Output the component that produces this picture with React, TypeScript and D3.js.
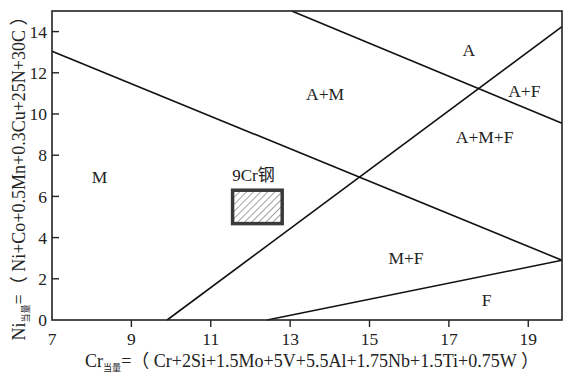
import React from 'react';
import * as d3 from 'd3';

// phase boundary lines, as (Cr_eq, Ni_eq) end points
const boundaryStartX = [7, 9.9, 13.04, 12.42];
const boundaryStartY = [13.05, 0, 15, 0];
const boundaryEndX = [19.85, 19.85, 19.85, 19.85];
const boundaryEndY = [2.9, 14.24, 9.55, 2.9];

// phase region labels
const regionNames = ['A', 'A+M', 'A+F', 'A+M+F', 'M', 'M+F', 'F'];
const regionX = [17.5, 13.88, 18.9, 17.9, 8.2, 15.92, 17.95];
const regionY = [13.1, 11.0, 11.1, 8.9, 6.96, 3.0, 1.0];

// 9Cr steel composition window
const steelName = '9Cr钢';
const steelCr = [11.55, 12.8];
const steelNi = [4.68, 6.3];

const xTicks = [7, 9, 11, 13, 15, 17, 19];
const yTicks = [0, 2, 4, 6, 8, 10, 12, 14];

const FONT = '"Liberation Serif", "Noto Sans CJK SC", serif';

function App() {
  const width = 566;
  const height = 374;
  const margin = { top: 11, right: 4, bottom: 54, left: 52 };
  const innerW = width - margin.left - margin.right;
  const innerH = height - margin.top - margin.bottom;

  const x = d3.scaleLinear().domain([7, 19.85]).range([0, innerW]);
  const y = d3.scaleLinear().domain([0, 15]).range([innerH, 0]);

  const lines = boundaryStartX.map((sx, i) => [
    [sx, boundaryStartY[i]],
    [boundaryEndX[i], boundaryEndY[i]],
  ]);
  const lineGen = d3
    .line<number[]>()
    .x((d) => x(d[0]))
    .y((d) => y(d[1]));

  return (
    <svg
      width={width}
      height={height}
      style={{ position: 'absolute', left: 0, top: 0, background: '#fff' }}
      fontFamily={FONT}
    >
      <defs>
        <pattern id="hatch" width="5" height="5" patternUnits="userSpaceOnUse" patternTransform="rotate(45)">
          <rect width="5" height="5" fill="#fff" />
          <line x1="0" y1="0" x2="0" y2="5" stroke="#555" strokeWidth="1.1" />
        </pattern>
      </defs>
      <g transform={`translate(${margin.left},${margin.top})`}>
        {/* boundaries */}
        {lines.map((l, i) => (
          <path key={i} d={lineGen(l) || ''} fill="none" stroke="#111" strokeWidth={1.6} />
        ))}

        {/* 9Cr window */}
        <rect
          x={x(steelCr[0])}
          y={y(steelNi[1])}
          width={x(steelCr[1]) - x(steelCr[0])}
          height={y(steelNi[0]) - y(steelNi[1])}
          fill="url(#hatch)"
          stroke="#3a3a3a"
          strokeWidth={3.5}
        />
        <text
          x={x((steelCr[0] + steelCr[1]) / 2) - 4}
          y={y(7.04)}
          dy="0.35em"
          textAnchor="middle"
          fontSize={17}
          fill="#222"
        >
          {steelName}
        </text>

        {/* region labels */}
        {regionNames.map((n, i) => (
          <text key={n} x={x(regionX[i])} y={y(regionY[i])} dy="0.35em" textAnchor="middle" fontSize={17.5} fill="#222">
            {n}
          </text>
        ))}

        {/* frame */}
        <rect x={0} y={0} width={innerW} height={innerH} fill="none" stroke="#222" strokeWidth={1.6} />

        {/* x axis */}
        {xTicks.map((t) => (
          <g key={t} transform={`translate(${x(t)},${innerH})`}>
            {t !== 7 && <line y1={0} y2={7} stroke="#222" strokeWidth={1.4} />}
            <text y={25} textAnchor="middle" fontSize={17.5} fill="#222">
              {t}
            </text>
          </g>
        ))}

        {/* y axis */}
        {yTicks.map((t) => (
          <g key={t} transform={`translate(0,${y(t)})`}>
            {t !== 0 && <line x1={0} x2={7} stroke="#222" strokeWidth={1.4} />}
            <text x={-5} dy="0.35em" textAnchor="end" fontSize={17.5} fill="#222">
              {t}
            </text>
          </g>
        ))}
      </g>

      {/* axis titles */}
      <text x={312} y={367} textAnchor="middle" fontSize={18} fill="#222">
        Cr
        <tspan fontSize={9} dy={4}>当量</tspan>
        <tspan dy={-4}>=（ Cr+2Si+1.5Mo+5V+5.5Al+1.75Nb+1.5Ti+0.75W ）</tspan>
      </text>
      <text transform="translate(25,174) rotate(-90)" textAnchor="middle" fontSize={18} fill="#222">
        Ni
        <tspan fontSize={9} dy={4}>当量</tspan>
        <tspan dy={-4}>=（ Ni+Co+0.5Mn+0.3Cu+25N+30C ）</tspan>
      </text>
    </svg>
  );
}

export default App;
